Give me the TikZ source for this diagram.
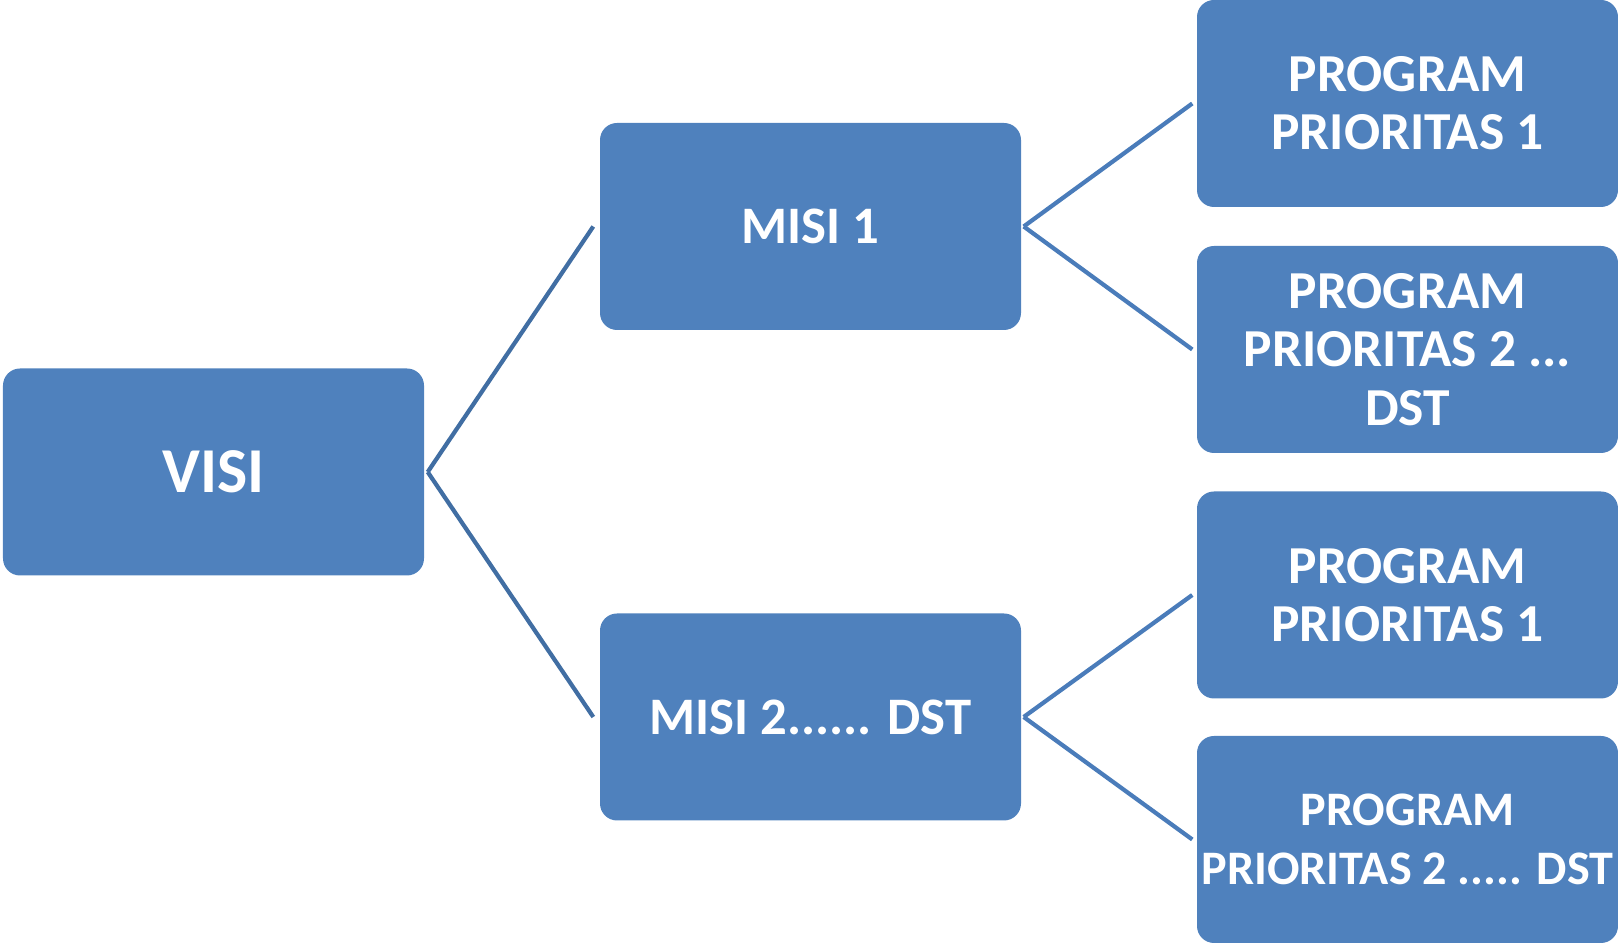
\documentclass[tikz,border=0pt]{standalone}
\usepackage{fontspec}
\setmainfont{Carlito}
\definecolor{boxblue}{HTML}{4F81BD}
\definecolor{linkdark}{HTML}{416EA3}
\definecolor{linkblue}{HTML}{4A7CBA}
\tikzset{
  box/.style={rectangle, rounded corners=0.17cm, fill=boxblue, text=white,
    align=center, minimum width=4.21cm, minimum height=2.07cm, inner sep=0pt},
  visifont/.style={font=\bfseries\fontsize{18.2}{22}\selectfont},
  misifont/.style={font=\bfseries\fontsize{15}{18}\selectfont},
  progfont/.style={font=\bfseries\fontsize{15.2}{16.6}\selectfont},
  smallfont/.style={font=\bfseries\fontsize{13.7}{16.6}\selectfont},
  link/.style={draw=linkblue, line width=1.2pt},
  linkmain/.style={link, draw=linkdark}
}

\begin{document}
\begin{tikzpicture}
  \useasboundingbox (0,0) rectangle (16.18,9.44);
  \node [box, visifont] (visi)  at (2.135,4.72)  {VISI};
  \node [box, misifont] (misi1) at (8.105,7.175) {MISI 1};
  \node [box, misifont] (misi2) at (8.105,2.27)  {MISI 2...... DST};
  \node [box, progfont] (prog1) at (14.075,8.405) {PROGRAM\\PRIORITAS 1};
  \node [box, progfont] (prog2) at (14.075,5.945) {PROGRAM\\PRIORITAS 2 ...\\DST};
  \node [box, progfont] (prog3) at (14.075,3.49)  {PROGRAM\\PRIORITAS 1};
  \node [box, smallfont] (prog4) at (14.075,1.045) {PROGRAM\\PRIORITAS 2 ..... DST};
  \path
    ([xshift=0.03cm]visi.east) edge [linkmain] ([xshift=-0.06cm]misi1.west)
    ([xshift=0.03cm]visi.east) edge [linkmain] ([xshift=-0.06cm]misi2.west)
    ([xshift=0.02cm]misi1.east) edge [link] ([xshift=-0.04cm]prog1.west)
    ([xshift=0.02cm]misi1.east) edge [link] ([xshift=-0.04cm]prog2.west)
    ([xshift=0.02cm]misi2.east) edge [link] ([xshift=-0.04cm]prog3.west)
    ([xshift=0.02cm]misi2.east) edge [link] ([xshift=-0.04cm]prog4.west);
\end{tikzpicture}
\end{document}
